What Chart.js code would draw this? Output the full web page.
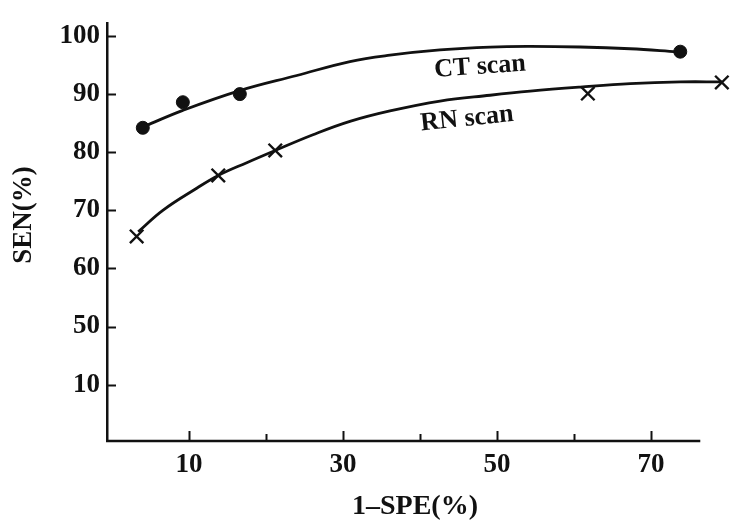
<!DOCTYPE html>
<html>
<head>
<meta charset="utf-8">
<script src="https://cdn.jsdelivr.net/npm/chart.js@4/dist/chart.umd.min.js"></script>
<style>
  html, body { margin: 0; padding: 0; background: #fff; }
  #wrap { width: 731px; height: 520px; }
</style>
</head>
<body>
<div id="wrap"><canvas id="myChart" width="731" height="520"></canvas></div>
<script>
// measured points, 1-SPE(%) vs SEN(%)
var ctX = [4.0, 9.2, 16.6, 73.8];
var ctY = [84.2, 88.6, 90.0, 97.3];
var rnX = [3.2, 13.8, 21.2, 61.8, 79.2];
var rnY = [65.5, 76.0, 80.3, 90.1, 92.0];

// hand drawn curves
var ctCurveX = [4.3, 9.2, 16.6, 24.0, 30.9, 36.1, 42.6, 49.1, 54.3, 60.8, 67.3, 73.4];
var ctCurveY = [84.5, 87.2, 90.6, 93.2, 95.6, 96.7, 97.6, 98.1, 98.2, 98.1, 97.8, 97.3];
var rnCurveX = [3.4, 6.6, 11.0, 13.8, 17.5, 21.2, 26.1, 30.9, 36.1, 42.6, 49.1, 54.3, 60.8, 67.3, 73.8, 79.2];
var rnCurveY = [66.3, 70.0, 73.8, 76.0, 78.2, 80.3, 83.0, 85.3, 87.1, 88.8, 89.8, 90.5, 91.2, 91.8, 92.1, 92.1];

// tick labels
var xTicks = [10, 20, 30, 40, 50, 60, 70];
var xLabeled = [10, 30, 50, 70];
var xAxisEnd = 76.4; // the drawn axis stops short of the last point
var yTicks = [40, 50, 60, 70, 80, 90, 100];
var yLabels = ["10", "50", "60", "70", "80", "90", "100"]; // axis is broken below 50

var ink = "#111";
var serif = '"Liberation Serif", "DejaVu Serif", serif';

function pts(xs, ys) {
	return xs.map((x, i) => ({x: x, y: ys[i]}));
}

// x axis line, inward tick marks, axis titles and curve labels
var extras = {
	id: 'extras',
	afterDraw(chart) {
		const ctx = chart.ctx;
		const xs = chart.scales.x;
		const ys = chart.scales.y;
		const area = chart.chartArea;
		ctx.save();
		ctx.strokeStyle = ink;

		ctx.lineWidth = 2.5;
		ctx.beginPath();
		ctx.moveTo(area.left - 1, area.bottom);
		ctx.lineTo(xs.getPixelForValue(xAxisEnd), area.bottom);
		ctx.stroke();

		ctx.lineWidth = 2;
		yTicks.forEach(v => {
			let py = Math.round(ys.getPixelForValue(v)) + 0.5;
			ctx.beginPath();
			ctx.moveTo(area.left, py);
			ctx.lineTo(area.left + 9, py);
			ctx.stroke();
		});
		xTicks.forEach(v => {
			let px = Math.round(xs.getPixelForValue(v)) + 0.5;
			let len = xLabeled.includes(v) ? 10 : 7;
			ctx.beginPath();
			ctx.moveTo(px, area.bottom);
			ctx.lineTo(px, area.bottom - len);
			ctx.stroke();
		});

		ctx.fillStyle = ink;
		ctx.textAlign = 'center';
		ctx.textBaseline = 'middle';
		ctx.font = 'bold 28px ' + serif;
		ctx.fillText('1\u2013SPE(%)', 415, 507);

		ctx.save();
		ctx.font = 'bold 27px ' + serif;
		ctx.translate(24, 215);
		ctx.rotate(-Math.PI / 2);
		ctx.fillText('SEN(%)', 0, 0);
		ctx.restore();

		ctx.font = 'bold 26px ' + serif;
		ctx.save();
		ctx.translate(480, 67);
		ctx.rotate(-4 * Math.PI / 180);
		ctx.fillText('CT scan', 0, 0);
		ctx.restore();

		ctx.save();
		ctx.translate(467, 119);
		ctx.rotate(-6 * Math.PI / 180);
		ctx.fillText('RN scan', 0, 0);
		ctx.restore();

		ctx.restore();
	}
};

const ctx = document.getElementById('myChart').getContext('2d');
var myChart = new Chart(ctx, {
	type: 'scatter',
	data: {
		datasets: [{
			label: 'CT curve',
			data: pts(ctCurveX, ctCurveY),
			showLine: true,
			borderColor: ink,
			borderWidth: 2.8,
			pointRadius: 0,
			tension: 0.4,
			clip: false
		}, {
			label: 'RN curve',
			data: pts(rnCurveX, rnCurveY),
			showLine: true,
			borderColor: ink,
			borderWidth: 2.8,
			pointRadius: 0,
			tension: 0.4,
			clip: false
		}, {
			label: 'CT scan',
			data: pts(ctX, ctY),
			pointStyle: 'circle',
			pointRadius: 6.5,
			backgroundColor: ink,
			borderColor: ink,
			borderWidth: 1,
			clip: false
		}, {
			label: 'RN scan',
			data: pts(rnX, rnY),
			pointStyle: 'crossRot',
			pointRadius: 9.5,
			borderColor: ink,
			borderWidth: 2.4,
			clip: false
		}]
	},
	options: {
		responsive: false,
		animation: false,
		layout: {
			autoPadding: false,
			padding: {top: 16, right: 3, left: 0, bottom: 0}
		},
		plugins: {
			legend: {display: false},
			tooltip: {enabled: false}
		},
		scales: {
			x: {
				type: 'linear',
				min: -0.65,
				max: 80,
				afterFit: s => { s.height = 79; },
				afterBuildTicks: s => { s.ticks = xTicks.map(v => ({value: v})); },
				grid: {display: false, drawTicks: false},
				border: {display: false},
				ticks: {
					color: ink,
					padding: 8,
					maxRotation: 0,
					autoSkip: false,
					font: {family: serif, size: 27, weight: 'bold'},
					callback: v => xLabeled.includes(v) ? String(v) : ''
				}
			},
			y: {
				type: 'linear',
				min: 30.3,
				max: 102.2,
				afterFit: s => { s.width = 107; },
				afterBuildTicks: s => { s.ticks = yTicks.map(v => ({value: v})); },
				grid: {display: false, drawTicks: false},
				border: {display: true, color: ink, width: 2.5},
				ticks: {
					color: ink,
					padding: 7,
					autoSkip: false,
					font: {family: serif, size: 27, weight: 'bold'},
					callback: v => yLabels[yTicks.indexOf(v)]
				}
			}
		}
	},
	plugins: [extras]
});
</script>
</body>
</html>
